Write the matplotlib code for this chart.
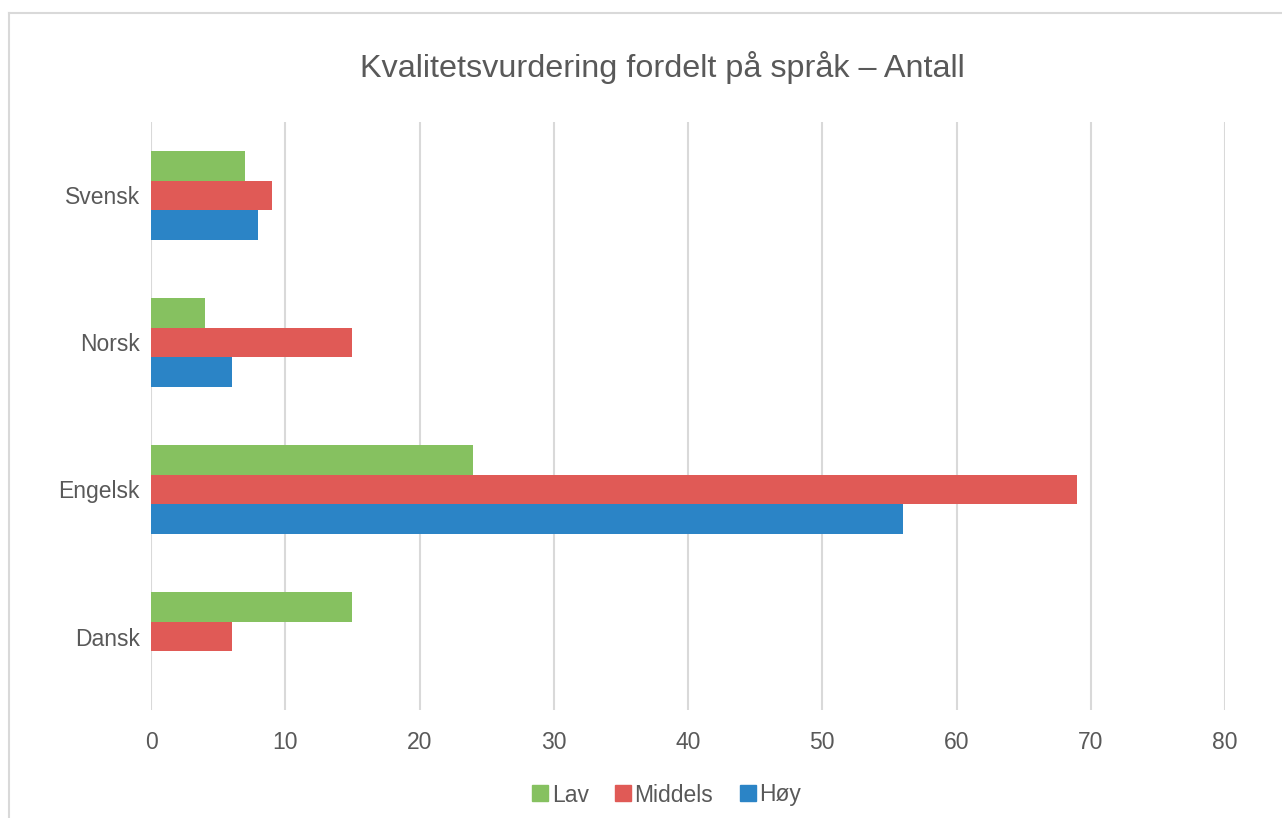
import numpy as np
import matplotlib.pyplot as plt
from matplotlib.lines import Line2D

plt.rcParams['font.family'] = ['Liberation Sans', 'DejaVu Sans']

# data
sprak = ['Dansk', 'Engelsk', 'Norsk', 'Svensk']
lav = [15, 24, 4, 7]
middels = [6, 69, 15, 9]
hoy = [0, 56, 6, 8]
serier = ['Lav', 'Middels', 'Høy']
farger = ['#86c160', '#e05a56', '#2b84c6']

tekst = '#595959'

fig = plt.figure(figsize=(12.82, 8.18), dpi=100)
ax = fig.add_axes([151 / 1282, 1 - 710 / 818, 1074 / 1282, 588 / 818])

y = np.arange(len(sprak))
h = 0.204
for verdier, navn, farge, off in zip([lav, middels, hoy], serier, farger, [h, 0, -h]):
    ax.barh(y + off, verdier, height=h, color=farge, label=navn, zorder=3)

ax.set_xlim(0, 80)
ax.set_ylim(-0.5, 3.5)
ax.set_xticks(range(0, 81, 10))
ax.set_yticks(y)
ax.set_yticklabels(sprak)
ax.grid(axis='x', color='#d9d9d9', linewidth=1.5, zorder=0)
for s in ax.spines.values():
    s.set_visible(False)
ax.tick_params(axis='both', length=0, labelsize=16.5, colors=tekst)
ax.tick_params(axis='x', pad=15)
ax.tick_params(axis='y', pad=8)

fig.text(0.517, 1 - 68 / 818, 'Kvalitetsvurdering fordelt på språk – Antall',
         ha='center', va='center', fontsize=23.3, color=tekst)

handles = [Line2D([], [], marker='s', linestyle='', markersize=11.5,
                  markerfacecolor=c, markeredgecolor=c) for c in farger]
fig.legend(handles, serier, loc='center', bbox_to_anchor=(666 / 1282, 1 - 795 / 818),
           ncol=3, frameon=False, fontsize=16.5, labelcolor=tekst,
           handletextpad=0.1, columnspacing=1.1, handlelength=0.8)

# ramme rundt diagrammet
fig.add_artist(Line2D([8.5 / 1282, 8.5 / 1282], [0, 1 - 12.5 / 818],
                      color='#d9d9d9', linewidth=1.5, transform=fig.transFigure))
fig.add_artist(Line2D([8.5 / 1282, 1], [1 - 12.5 / 818, 1 - 12.5 / 818],
                      color='#d9d9d9', linewidth=1.5, transform=fig.transFigure))

fig.savefig('out.png', dpi=100)
